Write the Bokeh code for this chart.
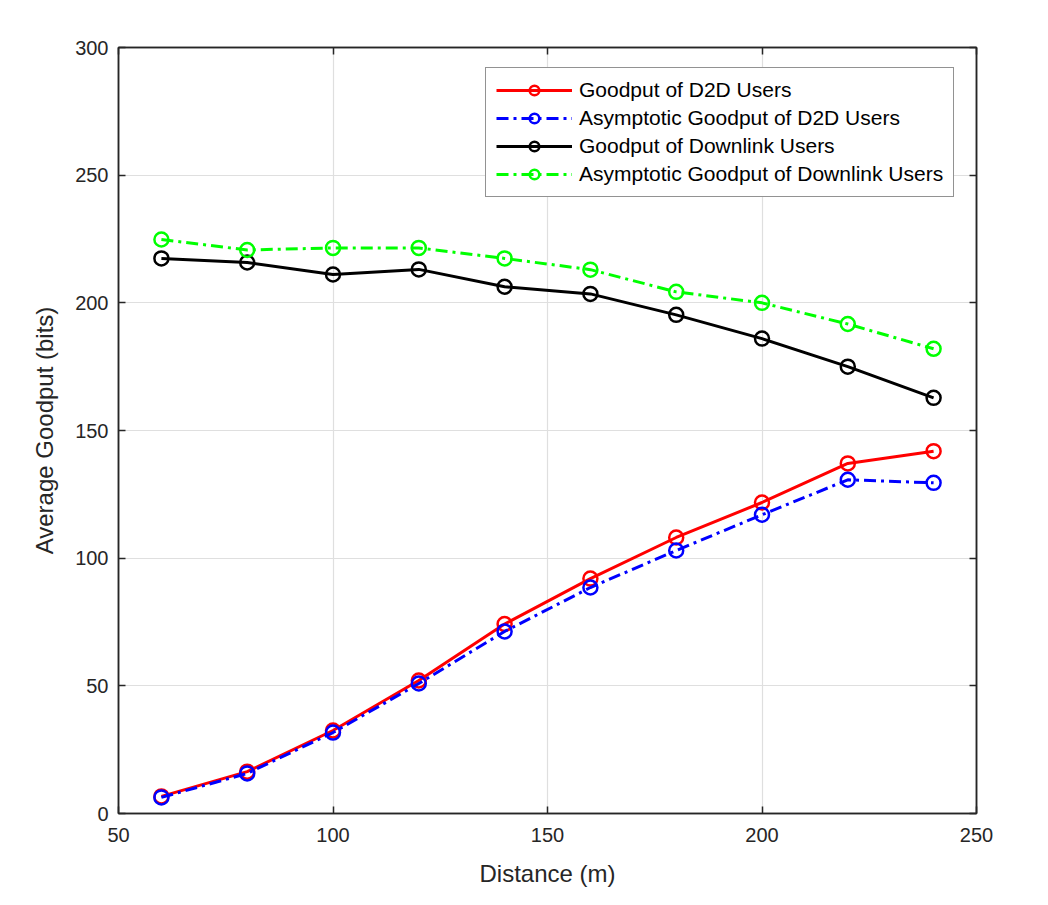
from bokeh.plotting import figure
from bokeh.models import LinearAxis, Legend, LegendItem, FixedTicker, Range1d
from bokeh.embed import file_html
from bokeh.resources import INLINE

distance = [60, 80, 100, 120, 140, 160, 180, 200, 220, 240]
d2d_goodput = [6.7, 16.4, 32.5, 52.1, 74.2, 92.0, 108.1, 121.8, 137.1, 141.9]
d2d_asym = [6.3, 15.7, 31.7, 50.9, 71.3, 88.5, 103.0, 117.0, 130.7, 129.5]
dl_goodput = [217.4, 215.8, 211.1, 213.1, 206.3, 203.5, 195.3, 186.0, 175.0, 162.8]
dl_asym = [224.8, 220.7, 221.5, 221.5, 217.4, 213.0, 204.3, 200.0, 191.7, 182.0]

labels = ["Goodput of D2D Users", "Asymptotic Goodput of D2D Users",
          "Goodput of Downlink Users", "Asymptotic Goodput of Downlink Users"]
series = [d2d_goodput, d2d_asym, dl_goodput, dl_asym]
colors = ["#ff0000", "#0000ff", "#000000", "#00ff00"]
dashes = ["solid", "12 5 3 5", "solid", "12 5 3 5"]
x_ticks = [50, 100, 150, 200, 250]
y_ticks = [0, 50, 100, 150, 200, 250, 300]

FONT = "Liberation Sans"
TXT = "#262626"

p = figure(width=1040, height=897, output_backend="svg", toolbar_location=None,
           x_range=Range1d(50, 250), y_range=Range1d(0, 300),
           min_border_left=118, min_border_right=64, min_border_top=47, min_border_bottom=84)
p.background_fill_color = "white"
p.border_fill_color = "white"
p.outline_line_color = "#262626"
p.outline_line_width = 1.5

for ax in [p.xaxis[0], p.yaxis[0]]:
    ax.major_tick_in = 7
    ax.major_tick_out = 0
    ax.minor_tick_in = 0
    ax.minor_tick_out = 0
    ax.axis_line_color = "#262626"
    ax.axis_line_width = 1.5
    ax.major_tick_line_color = "#262626"
    ax.major_tick_line_width = 1.5
    ax.major_label_text_font = FONT
    ax.major_label_text_font_size = "20px"
    ax.major_label_text_color = TXT
    ax.axis_label_text_font = FONT
    ax.axis_label_text_font_size = "24px"
    ax.axis_label_text_font_style = "normal"
    ax.axis_label_text_color = TXT

p.xaxis[0].ticker = FixedTicker(ticks=x_ticks)
p.yaxis[0].ticker = FixedTicker(ticks=y_ticks)
p.xaxis[0].axis_label = "Distance (m)"
p.yaxis[0].axis_label = "Average Goodput (bits)"
p.xaxis[0].major_label_standoff = 14
p.yaxis[0].major_label_standoff = 10
p.xaxis[0].axis_label_standoff = 15
p.yaxis[0].axis_label_standoff = 14

for loc, tk in [("right", y_ticks), ("above", x_ticks)]:
    ax = LinearAxis(ticker=FixedTicker(ticks=tk))
    ax.major_tick_in = 7
    ax.major_tick_out = 0
    ax.minor_tick_in = 0
    ax.minor_tick_out = 0
    ax.axis_line_color = "#262626"
    ax.axis_line_width = 1.5
    ax.major_tick_line_color = "#262626"
    ax.major_tick_line_width = 1.5
    ax.major_label_text_color = None
    ax.major_label_standoff = 0
    p.add_layout(ax, loc)

p.grid.grid_line_color = "#dfdfdf"
p.grid.grid_line_width = 1.2
p.xgrid.ticker = FixedTicker(ticks=x_ticks)
p.ygrid.ticker = FixedTicker(ticks=y_ticks)

items = []
for lab, ys, c, d in zip(labels, series, colors, dashes):
    r1 = p.line(distance, ys, line_color=c, line_width=3, line_dash=d)
    r2 = p.scatter(distance, ys, marker="circle", size=14, fill_color=None,
                   line_color=c, line_width=2.5)
    items.append(LegendItem(label=lab, renderers=[r1, r2]))

legend = Legend(items=items, location=(367, 616))
legend.label_text_font = FONT
legend.label_text_font_size = "21px"
legend.label_text_color = "#000000"
legend.glyph_width = 76
legend.glyph_height = 24
legend.label_height = 24
legend.spacing = 4
legend.padding = 10
legend.margin = 0
legend.label_standoff = 7
legend.border_line_color = "#262626"
legend.border_line_width = 1.5
legend.background_fill_color = "white"
legend.background_fill_alpha = 1.0
p.add_layout(legend, "center")

open("out.html", "w").write(file_html(p, INLINE))
